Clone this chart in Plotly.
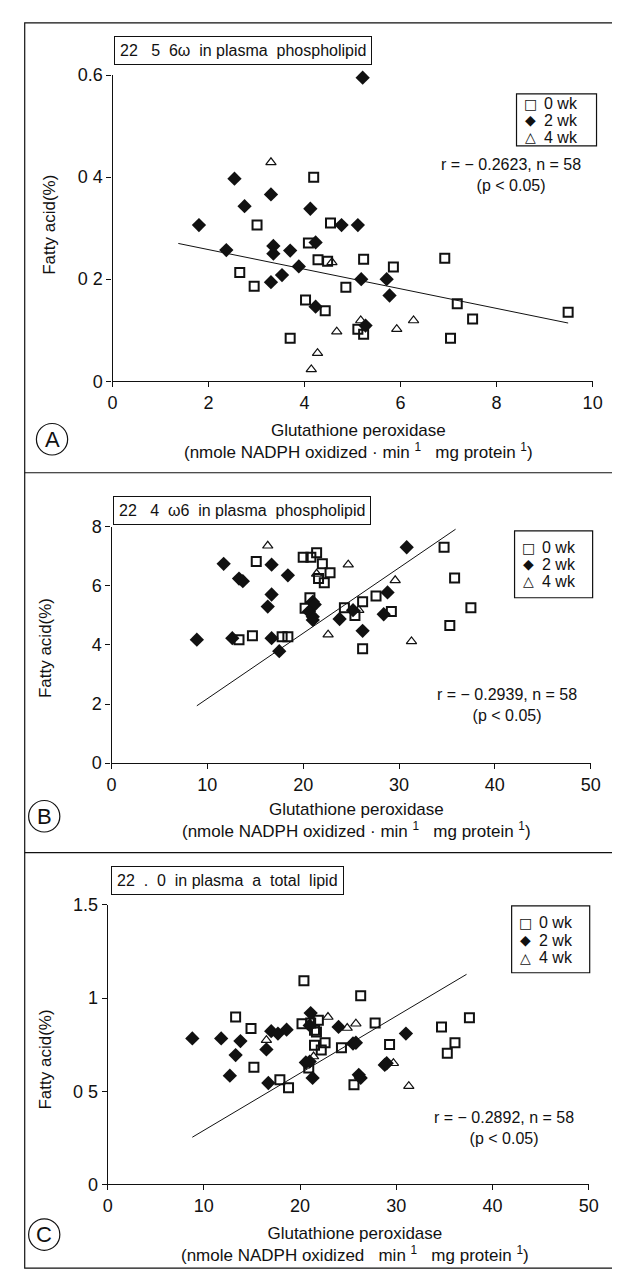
import plotly.graph_objects as go

W, H = 620, 1272
def px(x): return x / W
def py(y): return 1 - y / H

FONT = "Liberation Sans"
INK = "#111111"

# ---------------- Panel A: 22:5 w6 vs Glutathione peroxidase ----------------
a0_x = [4.19, 3.01, 4.54, 4.08, 6.92, 4.28, 4.48, 5.23, 5.85, 2.65, 2.95, 4.86, 4.02, 4.43, 7.18, 9.49, 7.50, 5.11, 5.23, 3.70, 7.04]
a0_y = [0.400, 0.306, 0.310, 0.271, 0.241, 0.238, 0.235, 0.239, 0.224, 0.213, 0.186, 0.184, 0.159, 0.138, 0.152, 0.135, 0.122, 0.102, 0.092, 0.084, 0.084]
a2_x = [2.54, 3.30, 2.75, 4.12, 1.80, 4.77, 5.11, 4.23, 2.37, 3.35, 3.35, 3.70, 3.88, 3.53, 3.30, 5.18, 5.71, 5.77, 4.23, 5.27, 5.21]
a2_y = [0.397, 0.366, 0.343, 0.338, 0.306, 0.306, 0.306, 0.272, 0.257, 0.265, 0.250, 0.256, 0.225, 0.208, 0.194, 0.200, 0.200, 0.168, 0.146, 0.109, 0.595]
a4_x = [3.30, 4.57, 6.27, 5.17, 4.67, 5.92, 4.27, 4.14, 4.97]
a4_y = [0.429, 0.233, 0.119, 0.119, 0.097, 0.102, 0.055, 0.023, 0.615]
a_fit_x = [1.37, 9.49]
a_fit_y = [0.270, 0.114]

# ---------------- Panel B: 22:4 w6 ----------------
b0_x = [34.7, 20.0, 20.8, 21.4, 22.0, 15.1, 22.8, 21.6, 22.2, 35.8, 27.6, 20.7, 20.2, 24.3, 26.2, 37.5, 25.4, 29.2, 35.3, 13.3, 14.7, 17.8, 18.4, 26.2]
b0_y = [7.31, 6.97, 6.97, 7.12, 6.75, 6.83, 6.45, 6.25, 6.11, 6.27, 5.66, 5.60, 5.24, 5.26, 5.46, 5.26, 5.00, 5.13, 4.66, 4.18, 4.31, 4.28, 4.28, 3.87]
b2_x = [30.8, 11.7, 16.7, 18.4, 13.3, 13.7, 16.7, 28.8, 16.3, 21.0, 21.2, 20.6, 21.0, 21.0, 25.2, 28.4, 23.8, 26.2, 8.9, 12.6, 16.7, 17.5]
b2_y = [7.31, 6.75, 6.72, 6.36, 6.25, 6.16, 5.71, 5.78, 5.30, 5.46, 5.37, 5.13, 4.96, 4.85, 5.18, 5.04, 4.88, 4.48, 4.18, 4.23, 4.23, 3.79]
b4_x = [16.3, 24.7, 21.4, 29.6, 25.8, 22.6, 31.3]
b4_y = [7.36, 6.72, 6.41, 6.19, 5.18, 4.35, 4.12]
b_fit_x = [8.9, 35.9]
b_fit_y = [1.94, 7.92]

# ---------------- Panel C: 22:0 total lipid ----------------
c0_x = [20.4, 26.3, 13.3, 20.2, 21.1, 21.9, 21.7, 21.5, 27.8, 14.9, 34.7, 37.6, 21.5, 22.6, 22.2, 24.3, 29.3, 36.1, 35.3, 20.9, 15.2, 25.6, 17.9, 18.8]
c0_y = [1.092, 1.012, 0.898, 0.862, 0.866, 0.880, 0.818, 0.827, 0.866, 0.836, 0.845, 0.894, 0.747, 0.760, 0.721, 0.733, 0.751, 0.760, 0.703, 0.624, 0.629, 0.535, 0.562, 0.518]
c2_x = [21.1, 21.0, 24.0, 17.0, 17.7, 18.6, 31.0, 8.8, 11.8, 13.8, 16.5, 25.5, 25.8, 13.3, 20.6, 21.0, 28.8, 29.0, 12.7, 26.1, 26.3, 21.3, 16.7]
c2_y = [0.919, 0.853, 0.845, 0.822, 0.809, 0.830, 0.809, 0.783, 0.783, 0.769, 0.724, 0.756, 0.760, 0.694, 0.654, 0.659, 0.641, 0.650, 0.583, 0.588, 0.571, 0.571, 0.544]
c4_x = [22.9, 25.8, 24.9, 16.5, 21.4, 29.7, 31.3]
c4_y = [0.898, 0.862, 0.839, 0.774, 0.686, 0.650, 0.527]
c_fit_x = [8.8, 37.3]
c_fit_y = [0.253, 1.127]

group_names = ["0 wk", "2 wk", "4 wk"]
group_glyphs = ["\u25a1", "\u25c6", "\u25b3"]
panel_titles = ["22\u00a0\u00a0\u00a05\u00a0\u00a06\u03c9\u00a0 in plasma\u00a0 phospholipid",
                "22\u00a0\u00a0\u00a04\u00a0\u00a0\u03c96\u00a0 in plasma\u00a0 phospholipid",
                "22\u00a0 .\u00a0 0\u00a0 in plasma\u00a0 a\u00a0 total\u00a0 lipid"]
stat_texts = ["r = \u2212 0.2623, n = 58", "r = \u2212 0.2939, n = 58", "r = \u2212 0.2892, n = 58"]
p_text = "(p < 0.05)"
panel_letters = ["A", "B", "C"]
y_title = "Fatty acid(%)"
x_title1 = "Glutathione peroxidase"
x_title2 = ["(nmole NADPH oxidized \u00b7 min <sup>1</sup>\u00a0\u00a0 mg protein <sup>1</sup>)",
            "(nmole NADPH oxidized \u00b7 min <sup>1</sup>\u00a0\u00a0 mg protein <sup>1</sup>)",
            "(nmole NADPH oxidized\u00a0\u00a0 min <sup>1</sup>\u00a0\u00a0 mg protein <sup>1</sup>)"]

panels = [
    dict(g=[(a0_x, a0_y), (a2_x, a2_y), (a4_x, a4_y)], fit=(a_fit_x, a_fit_y),
         xr=[0, 10], xd=2, yr=[0, 0.6],
         ytv=[0, 0.2, 0.4, 0.6], ytt=["0", "0 2", "0 4", "0.6"],
         dom_x=(102, 594), dom_y=(369, 58),
         title=(104, 33), leg_box=(516, 598, 77, 130), leg_rows=(87, 104, 121),
         stat=(510, 160), xt=(354, 430), circ=(40, 428), ytitle=(38, 210)),
    dict(g=[(b0_x, b0_y), (b2_x, b2_y), (b4_x, b4_y)], fit=(b_fit_x, b_fit_y),
         xr=[0, 50], xd=10, yr=[0, 8],
         ytv=[0, 2, 4, 6, 8], ytt=["0", "2", "4", "6", "8"],
         dom_x=(101, 592), dom_y=(757, 517),
         title=(102, 500), leg_box=(514, 594, 521, 589), leg_rows=(538, 555, 572),
         stat=(506, 698), xt=(352, 815), circ=(32, 811), ytitle=(34, 640)),
    dict(g=[(c0_x, c0_y), (c2_x, c2_y), (c4_x, c4_y)], fit=(c_fit_x, c_fit_y),
         xr=[0, 50], xd=10, yr=[0, 1.5],
         ytv=[0, 0.5, 1, 1.5], ytt=["0", "0 5", "1", "1.5"],
         dom_x=(97, 590), dom_y=(1185, 901),
         title=(100, 876), leg_box=(511, 591, 902, 970), leg_rows=(919, 937, 955),
         stat=(503, 1128), xt=(350, 1246), circ=(32, 1236), ytitle=(33, 1058)),
]

markers = [
    dict(symbol="square-open", size=9, color=INK, line=dict(width=2, color=INK)),
    dict(symbol="diamond", size=11, color=INK, line=dict(width=0, color=INK)),
    dict(symbol="triangle-up-open", size=9, color=INK, line=dict(width=1.2, color=INK)),
]

fig = go.Figure()
annotations = []
shapes = []
layout = {}

def note(text, x, y, size, xanchor="center", **kw):
    d = dict(text=text, x=px(x), y=py(y), xref="paper", yref="paper",
             xanchor=xanchor, yanchor="middle", showarrow=False,
             font=dict(family=kw.pop("family", FONT), size=size, color=INK))
    d.update(kw)
    annotations.append(d)

for i, p in enumerate(panels):
    n = "" if i == 0 else str(i + 1)
    xa, ya = "x" + n, "y" + n
    for (gx, gy), name, mk in zip(p["g"], group_names, markers):
        fig.add_trace(go.Scatter(x=gx, y=gy, mode="markers", name=name, marker=mk,
                                 xaxis=xa, yaxis=ya, showlegend=False, cliponaxis=False))
    fx, fy = p["fit"]
    fig.add_trace(go.Scatter(x=fx, y=fy, mode="lines", line=dict(color=INK, width=1),
                             xaxis=xa, yaxis=ya, showlegend=False, hoverinfo="skip"))
    axis_common = dict(showline=True, linecolor=INK, linewidth=1.2, ticks="outside",
                       ticklen=5, tickcolor=INK, tickwidth=1, showgrid=False, zeroline=False,
                       tickfont=dict(family=FONT, size=18, color=INK), fixedrange=True)
    layout["xaxis" + n] = dict(axis_common, range=p["xr"], dtick=p["xd"], tick0=0,
                               domain=[px(p["dom_x"][0]), px(p["dom_x"][1])], anchor=ya)
    layout["yaxis" + n] = dict(axis_common, range=p["yr"], tickvals=p["ytv"], ticktext=p["ytt"],
                               domain=[py(p["dom_y"][0]), py(p["dom_y"][1])], anchor=xa)

    # legend box (framed key)
    bx0, bx1, by0, by1 = p["leg_box"]
    shapes.append(dict(type="rect", xref="paper", yref="paper", x0=px(bx0), x1=px(bx1),
                       y0=py(by1), y1=py(by0), line=dict(color=INK, width=1.2)))
    for glyph, name, ry in zip(group_glyphs, group_names, p["leg_rows"]):
        note(glyph, bx0 + 14, ry, 14, family="DejaVu Sans")
        note(name, bx0 + 26, ry, 16, xanchor="left")

    tx, ty = p["title"]
    note(panel_titles[i], tx, ty, 16, xanchor="left",
         bordercolor=INK, borderwidth=1, borderpad=5)
    sx, sy = p["stat"]
    note(stat_texts[i] + "<br>" + p_text, sx, sy, 16, align="center")
    xc, yc = p["xt"]
    note(x_title1 + "<br>" + x_title2[i], xc, yc, 17, align="center")
    yx, yy = p["ytitle"]
    note(y_title, yx, yy, 17, textangle=-90)
    cx, cy = p["circ"]
    r = 16
    shapes.append(dict(type="circle", xref="paper", yref="paper",
                       x0=px(cx - r), x1=px(cx + r), y0=py(cy + r), y1=py(cy - r),
                       line=dict(color=INK, width=1.2)))
    note(panel_letters[i], cx, cy, 22)

# outer frame and panel dividers
shapes.append(dict(type="rect", xref="paper", yref="paper", x0=px(12), x1=px(617),
                   y0=py(1270), y1=py(5), line=dict(color=INK, width=1.2)))
for yd in (462, 848):
    shapes.append(dict(type="line", xref="paper", yref="paper", x0=px(12), x1=px(617),
                       y0=py(yd), y1=py(yd), line=dict(color=INK, width=1.2)))

fig.update_layout(width=W, height=H, margin=dict(l=0, r=0, t=0, b=0),
                  paper_bgcolor="white", plot_bgcolor="white", showlegend=False,
                  annotations=annotations, shapes=shapes, **layout)

fig.write_html("out.html")
